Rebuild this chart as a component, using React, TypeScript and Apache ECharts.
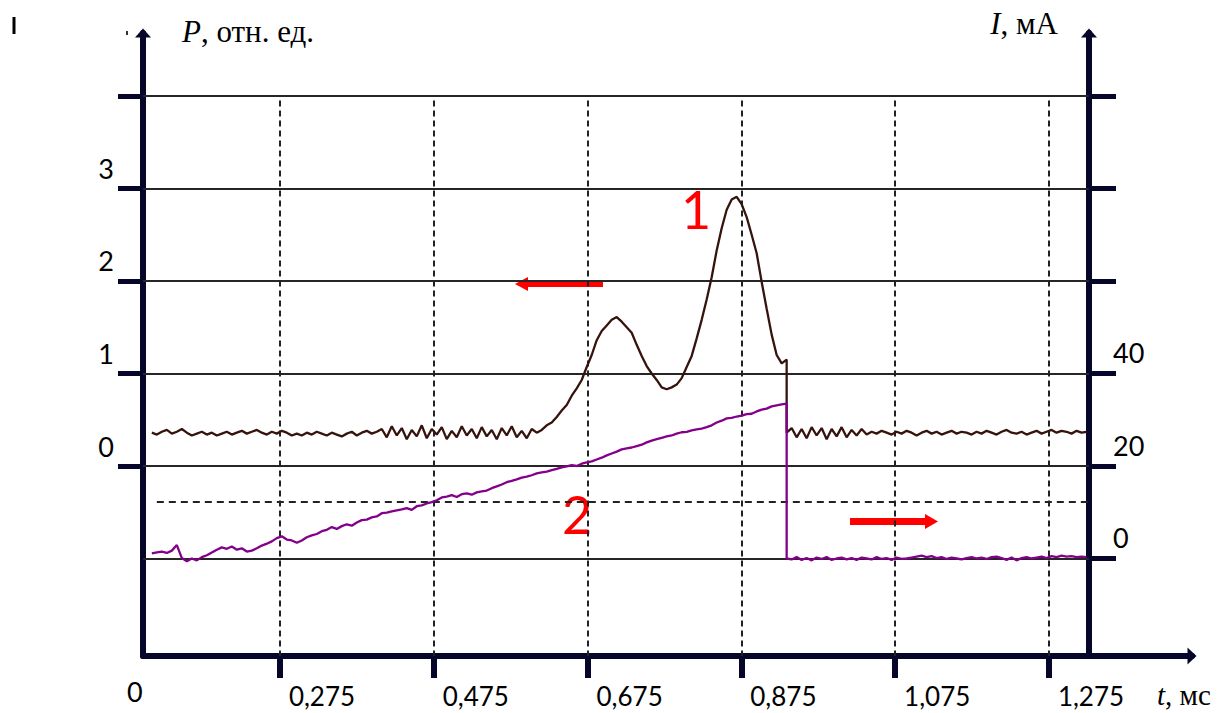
import React, { useEffect, useRef } from "react";
import * as echarts from "echarts";

// ---- data ----
// time samples: T0 + i*DT (ms)
const T0 = 0.1085;
const DT = 0.0065;
const DROP_T = T0 + 127 * DT; // instant of the current cut-off

// curve 1: P, rel. units (left axis) — before and after the cut-off
const powerBefore = [
  0.36, 0.34, 0.37, 0.39, 0.35, 0.37, 0.4, 0.36, 0.33, 0.35,
  0.37, 0.34, 0.36, 0.33, 0.35, 0.37, 0.34, 0.36, 0.38, 0.35,
  0.37, 0.39, 0.36, 0.34, 0.37, 0.35, 0.38, 0.36, 0.33, 0.35,
  0.33, 0.36, 0.34, 0.37, 0.35, 0.33, 0.36, 0.34, 0.32, 0.35,
  0.37, 0.33, 0.36, 0.38, 0.35, 0.37, 0.4, 0.31, 0.43, 0.33,
  0.41, 0.29, 0.39, 0.32, 0.44, 0.3, 0.4, 0.34, 0.42, 0.29,
  0.38, 0.31, 0.43, 0.33, 0.4, 0.3, 0.42, 0.32, 0.39, 0.29,
  0.41, 0.33, 0.43, 0.31, 0.38, 0.3, 0.4, 0.36, 0.39, 0.44,
  0.47, 0.53, 0.6, 0.66, 0.76, 0.84, 0.93, 1.07, 1.2, 1.36,
  1.46, 1.52, 1.58, 1.61, 1.56, 1.5, 1.44, 1.31, 1.19, 1.08,
  1.0, 0.93, 0.85, 0.83, 0.85, 0.88, 0.95, 1.07, 1.19, 1.38,
  1.58, 1.8, 2.04, 2.33, 2.57, 2.77, 2.88, 2.91, 2.83, 2.69,
  2.5, 2.3, 1.99, 1.7, 1.42, 1.2, 1.11, 1.15,
];
const powerAfter = [
  0.36, 0.41, 0.31, 0.4, 0.3, 0.42, 0.33, 0.41, 0.29, 0.4,
  0.32, 0.42, 0.31, 0.39, 0.33, 0.4, 0.34, 0.37, 0.35, 0.38,
  0.36, 0.34, 0.37, 0.35, 0.38, 0.36, 0.33, 0.36, 0.38, 0.35,
  0.37, 0.34, 0.36, 0.38, 0.35, 0.37, 0.36, 0.34, 0.37, 0.35,
  0.38, 0.36, 0.34, 0.37, 0.39, 0.36, 0.35, 0.37, 0.34, 0.36,
  0.38, 0.35, 0.37, 0.39, 0.36, 0.38, 0.37, 0.35, 0.38, 0.36,
  0.37,
];

// curve 2: I, mA (right axis) — before and after the cut-off
const currentBefore = [
  1.1, 1.3, 1.5, 1.2, 1.7, 2.9, 0.1, -0.6, 0.0, -0.4,
  0.3, 0.7, 1.3, 1.9, 2.4, 2.1, 2.6, 1.9, 2.2, 1.5,
  1.7, 2.2, 2.8, 3.2, 3.7, 4.4, 4.8, 4.1, 3.9, 3.4,
  3.9, 4.6, 5.0, 5.3, 5.9, 6.2, 6.8, 6.4, 7.0, 7.4,
  7.1, 7.8, 8.3, 8.4, 8.9, 9.1, 9.8, 9.9, 10.2, 10.4,
  10.6, 10.9, 10.5, 11.3, 11.5, 11.9, 12.2, 12.6, 13.2, 13.4,
  13.7, 13.3, 13.9, 14.1, 13.8, 14.3, 14.5, 14.7, 15.2, 15.6,
  16.0, 16.5, 16.8, 17.1, 17.5, 17.7, 18.0, 18.4, 18.6, 18.8,
  19.1, 19.4, 19.7, 19.9, 20.2, 20.0, 20.5, 20.8, 21.0, 21.4,
  21.8, 22.3, 22.7, 23.1, 23.6, 23.8, 24.0, 24.3, 24.6, 25.1,
  25.5, 25.8, 26.1, 26.4, 26.6, 27.0, 27.3, 27.4, 27.7, 27.9,
  28.1, 28.4, 28.8, 29.4, 29.8, 30.3, 30.4, 30.7, 30.9, 31.2,
  31.3, 31.8, 32.2, 32.4, 32.9, 33.1, 33.3, 33.5,
];
const currentAfter = [
  0.0, -0.2, 0.3, -0.3, 0.1, -0.4, 0.2, -0.1, 0.3, -0.3,
  0.0, 0.2, -0.2, 0.1, -0.3, 0.2, 0.0, -0.2, 0.3, -0.1,
  0.1, -0.3, 0.2, -0.1, 0.0, 0.2, 0.4, 0.6, 0.3, 0.5,
  0.1, 0.3, -0.1, 0.2, 0.0, -0.2, 0.1, 0.3, 0.0, 0.2,
  -0.1, 0.3, 0.4, 0.1, -0.3, 0.2, -0.4, 0.1, 0.3, 0.0,
  0.2, 0.4, 0.1, 0.5, 0.3, 0.6, 0.4, 0.5, 0.3, 0.4,
  0.3,
];

// axes
const timeTicks = [0.275, 0.475, 0.675, 0.875, 1.075, 1.275];
const powerTicks = [0, 1, 2, 3, 4];
const powerLabels = [0, 1, 2, 3];
const currentTicks = [0, 20, 40, 60, 80, 100];
const currentLabels = [0, 20, 40];
const powerGridLines = [4, 3, 2, 1, 0, -1];
const dashedLevel = -0.39; // dashed horizontal reference (P units)

const X_MIN = 0.097;
const X_MAX = 1.4611;
const X_RIGHT = 1.327; // position of the right axis
const P_MIN = -2.054;
const P_MAX = 4.681;
const I_MIN = -21.08;
const I_MAX = 113.62;

const AXIS_COLOR = "#06062a";
const GRID_COLOR = "#262626";
const LABEL_FONT = "Lato";
const SERIF = "'Liberation Serif', 'DejaVu Serif', serif";

function build(before: number[], after: number[]) {
  const a = before.map((v, i) => [T0 + i * DT, v]);
  const b = after.map((v, j) => [DROP_T + j * DT, v]);
  return a.concat(b);
}

export default function App() {
  const ref = useRef<HTMLDivElement>(null);
  useEffect(() => {
    if (!ref.current) return;
    const chart = echarts.init(ref.current, null, { renderer: "svg" });

    const gridLineData: any[] = powerGridLines.map((p) => [
      { coord: [X_MIN, p], lineStyle: { color: GRID_COLOR, width: 2, type: "solid" } },
      { coord: [X_RIGHT, p] },
    ]);
    gridLineData.push([
      { coord: [0.115, dashedLevel], lineStyle: { color: "#222", width: 2, type: [7, 5] } },
      { coord: [X_RIGHT, dashedLevel] },
    ]);
    timeTicks.forEach((t) => {
      gridLineData.push([
        { coord: [t, 3.95], lineStyle: { color: "#222", width: 2, type: [6, 4] } },
        { coord: [t, P_MIN] },
      ]);
    });

    const option: any = {
      animation: false,
      backgroundColor: "#ffffff",
      grid: { left: 143, right: 34, top: 33, bottom: 57, containLabel: false },
      xAxis: {
        type: "value",
        min: X_MIN,
        max: X_MAX,
        name: "{i|t}, мс",
        nameLocation: "end",
        nameGap: -35,
        nameTextStyle: {
          align: "left",
          verticalAlign: "middle",
          padding: [78, 0, 0, 0],
          fontFamily: SERIF,
          fontSize: 29,
          color: "#000",
          rich: { i: { fontStyle: "italic", fontFamily: SERIF, fontSize: 29, color: "#000" } },
        },
        axisLine: {
          show: true,
          onZero: false,
          symbol: ["none", "triangle"],
          symbolSize: [17, 9],
          lineStyle: { color: AXIS_COLOR, width: 6 },
        },
        axisTick: {
          show: true,
          customValues: timeTicks,
          length: 22,
          inside: false,
          lineStyle: { color: AXIS_COLOR, width: 6 },
        },
        axisLabel: {
          show: true,
          customValues: timeTicks,
          formatter: (v: number) => v.toFixed(3).replace(".", ","),
          align: "left",
          padding: [0, 0, 0, 9],
          margin: 27,
          lineHeight: 26,
          fontFamily: LABEL_FONT,
          fontSize: 26,
          color: "#000",
        },
        splitLine: { show: false },
      },
      yAxis: [
        {
          type: "value",
          position: "left",
          min: P_MIN,
          max: P_MAX,
          name: "{i|P}, отн. ед.",
          nameLocation: "end",
          nameGap: 2,
          nameTextStyle: {
            align: "left",
            verticalAlign: "middle",
            padding: [0, 0, 0, 39],
            fontFamily: SERIF,
            fontSize: 31,
            color: "#000",
            rich: { i: { fontStyle: "italic", fontFamily: SERIF, fontSize: 31, color: "#000" } },
          },
          axisLine: {
            show: true,
            onZero: false,
            symbol: ["none", "triangle"],
            symbolSize: [16, 9],
            lineStyle: { color: AXIS_COLOR, width: 6 },
          },
          axisTick: {
            show: true,
            customValues: powerTicks,
            length: 25,
            inside: false,
            lineStyle: { color: AXIS_COLOR, width: 5 },
          },
          axisLabel: {
            show: true,
            customValues: powerLabels,
            formatter: (v: number) => String(Math.round(v)),
            margin: 29,
            verticalAlign: "bottom",
            lineHeight: 40,
            fontFamily: LABEL_FONT,
            fontSize: 27,
            color: "#000",
          },
          splitLine: { show: false },
        },
        {
          type: "value",
          position: "right",
          offset: -103,
          min: I_MIN,
          max: I_MAX,
          name: "{i|I}, мА",
          nameLocation: "end",
          nameGap: 10,
          nameTextStyle: {
            align: "right",
            verticalAlign: "middle",
            padding: [0, 31, 0, 0],
            fontFamily: SERIF,
            fontSize: 31,
            color: "#000",
            rich: { i: { fontStyle: "italic", fontFamily: SERIF, fontSize: 31, color: "#000" } },
          },
          axisLine: {
            show: true,
            onZero: false,
            symbol: ["none", "triangle"],
            symbolSize: [16, 9],
            lineStyle: { color: AXIS_COLOR, width: 6 },
          },
          axisTick: {
            show: true,
            customValues: currentTicks,
            length: 27,
            inside: false,
            lineStyle: { color: AXIS_COLOR, width: 5 },
          },
          axisLabel: {
            show: true,
            customValues: currentLabels,
            formatter: (v: number) => String(Math.round(v)),
            margin: 24,
            verticalAlign: "bottom",
            lineHeight: 42,
            fontFamily: LABEL_FONT,
            fontSize: 27,
            color: "#000",
          },
          splitLine: { show: false },
        },
      ],
      series: [
        {
          name: "P",
          type: "line",
          yAxisIndex: 0,
          data: build(powerBefore, powerAfter),
          showSymbol: false,
          symbol: "none",
          z: 3,
          lineStyle: { color: "#35140e", width: 2.3 },
          markLine: {
            silent: true,
            z: 1,
            symbol: ["none", "none"],
            label: { show: false },
            emphasis: { disabled: true },
            data: gridLineData,
          },
        },
        {
          name: "I",
          type: "line",
          yAxisIndex: 1,
          data: build(currentBefore, currentAfter),
          showSymbol: false,
          symbol: "none",
          z: 4,
          lineStyle: { color: "#84008a", width: 2.3 },
        },
      ],
      graphic: [
        { type: "text", left: 127, top: 678, style: { text: "0", font: `27px ${LABEL_FONT}`, fill: "#000" } },
        { type: "text", x: 696, y: 209, style: { text: "1", font: `52px ${LABEL_FONT}`, fill: "#ff0000", align: "center", verticalAlign: "middle" } },
        { type: "text", x: 577, y: 514, style: { text: "2", font: `52px ${LABEL_FONT}`, fill: "#ff0000", align: "center", verticalAlign: "middle" } },
        { type: "rect", shape: { x: 525, y: 281, width: 78, height: 6 }, style: { fill: "#ff0000" } },
        { type: "polygon", shape: { points: [[515, 284], [528, 277], [528, 291]] }, style: { fill: "#ff0000" } },
        { type: "rect", shape: { x: 850, y: 518, width: 78, height: 7 }, style: { fill: "#ff0000" } },
        { type: "polygon", shape: { points: [[938, 521.5], [925, 514], [925, 529]] }, style: { fill: "#ff0000" } },
        { type: "line", shape: { x1: 14, y1: 17, x2: 14, y2: 34 }, style: { stroke: "#000", lineWidth: 3 } },
        { type: "rect", shape: { x: 126, y: 31, width: 2, height: 4 }, style: { fill: "#333" } },
      ],
    };
    chart.setOption(option);
    return () => chart.dispose();
  }, []);
  return (
    <div
      ref={ref}
      style={{ position: "absolute", left: 0, top: 0, width: 1226, height: 713, background: "#fff" }}
    />
  );
}
